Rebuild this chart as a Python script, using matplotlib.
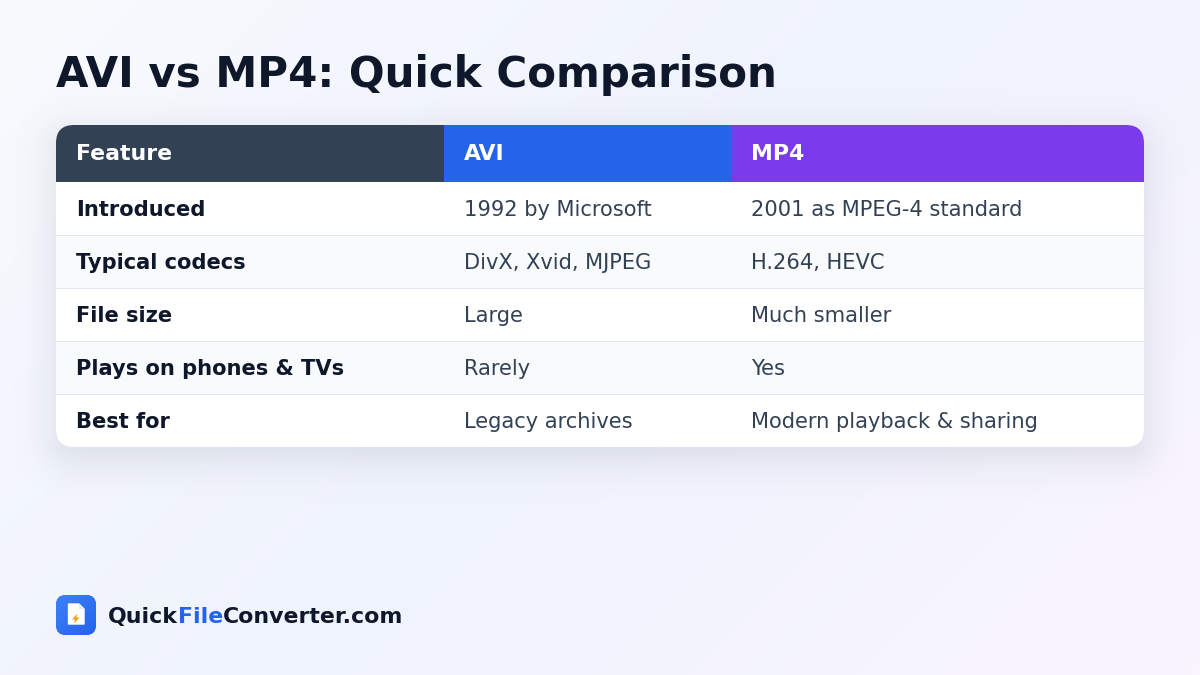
import numpy as np
import matplotlib
matplotlib.use("Agg")
import matplotlib.pyplot as plt
from matplotlib.patches import FancyBboxPatch, Rectangle, Polygon
from matplotlib.colors import LinearSegmentedColormap, to_rgb

title = "AVI vs MP4: Quick Comparison"
headers = ["Feature", "AVI", "MP4"]
features = ["Introduced", "Typical codecs", "File size", "Plays on phones & TVs", "Best for"]
avi = ["1992 by Microsoft", "DivX, Xvid, MJPEG", "Large", "Rarely", "Legacy archives"]
mp4 = ["2001 as MPEG-4 standard", "H.264, HEVC", "Much smaller", "Yes", "Modern playback & sharing"]
footer = [("Quick", "#0f172a"), ("File", "#2563eb"), ("Converter.com", "#0f172a")]

W, H = 1200, 675
col_x = [56, 444, 731, 1144]
row_y = [125, 182, 236, 289, 342, 395, 447]
baselines = [216, 269, 322, 375, 428]
head_cols = ["#334155", "#2563eb", "#7c3aed"]
plt.rcParams["font.family"] = "DejaVu Sans"
px = 72 / 100

fig = plt.figure(figsize=(12, 6.75), dpi=100)
ax = fig.add_axes([0, 0, 1, 1])
ax.set_xlim(0, W)
ax.set_ylim(H, 0)
ax.axis("off")

yy, xx = np.mgrid[0:H, 0:W] + 0.5
t = (xx + yy) / (W + H)
bg = LinearSegmentedColormap.from_list("bg", ["#f8fafd", "#eff3fe", "#faf5ff"])
ax.imshow(t, cmap=bg, vmin=0, vmax=1, extent=(0, W, H, 0), aspect="auto", zorder=0, interpolation="bilinear")

def rrect(x0, y0, x1, y1, r, **kw):
    p = FancyBboxPatch((x0 + r, y0 + r), x1 - x0 - 2 * r, y1 - y0 - 2 * r,
                       boxstyle=f"round,pad={r},rounding_size={r}", linewidth=0, **kw)
    ax.add_patch(p)
    return p

card = (col_x[0], row_y[0], col_x[-1], row_y[-1])

# soft card shadow: blurred rounded box, offset downward
sigma, off, strength, rad = 20.0, 10.0, 0.12, 18.0
cx, cy = (card[0] + card[2]) / 2, (card[1] + card[3]) / 2 + off
qx = np.abs(xx - cx) - ((card[2] - card[0]) / 2 - rad)
qy = np.abs(yy - cy) - ((card[3] - card[1]) / 2 - rad)
dist = np.hypot(np.maximum(qx, 0), np.maximum(qy, 0)) + np.minimum(np.maximum(qx, qy), 0) - rad
alpha = strength * 0.5 * (1 - np.tanh(dist / (sigma * 1.25)))
shadow = np.zeros((H, W, 4))
shadow[..., :3] = to_rgb("#0f172a")
shadow[..., 3] = alpha
ax.imshow(shadow, extent=(0, W, H, 0), aspect="auto", zorder=1, interpolation="bilinear")
ax.set_xlim(0, W)
ax.set_ylim(H, 0)

clip = rrect(*card, 18, facecolor="white", zorder=2)

# header cells and zebra rows
for i, c in enumerate(head_cols):
    r = Rectangle((col_x[i], row_y[0]), col_x[i + 1] - col_x[i], row_y[1] - row_y[0],
                  facecolor=c, linewidth=0, zorder=3)
    ax.add_patch(r)
    r.set_clip_path(clip)
for i in range(len(features)):
    y0, y1 = row_y[i + 1], row_y[i + 2]
    if i % 2 == 1:
        ax.add_patch(Rectangle((col_x[0], y0), col_x[-1] - col_x[0], y1 - y0,
                               facecolor="#f8fafc", linewidth=0, zorder=3))
    if i < len(features) - 1:
        ax.add_patch(Rectangle((col_x[0], y1 - 1), col_x[-1] - col_x[0], 1,
                               facecolor="#e2e8f0", linewidth=0, zorder=4))

# text
fs_head = 22 * px
fs = 21 * px
text_x = [c + 20 for c in col_x[:3]]
for x, h in zip(text_x, headers):
    ax.text(x, 160, h, color="white", fontsize=fs_head, fontweight="bold", va="baseline", zorder=5)
for i in range(len(features)):
    b = baselines[i]
    ax.text(text_x[0], b, features[i], color="#0f172a", fontsize=fs, fontweight="bold", va="baseline", zorder=5)
    ax.text(text_x[1], b, avi[i], color="#334155", fontsize=fs, va="baseline", zorder=5)
    ax.text(text_x[2], b, mp4[i], color="#334155", fontsize=fs, va="baseline", zorder=5)

ax.text(56, 87, title, color="#0f172a", fontsize=42 * px, fontweight="bold", va="baseline", zorder=5)

# logo
logo = rrect(56, 595, 96, 635, 10, facecolor="#2563eb", zorder=3)
grad = np.linspace(0, 1, 40)[:, None] * 0.5 + np.linspace(0, 1, 40)[None, :] * 0.5
im = ax.imshow(grad, cmap=LinearSegmentedColormap.from_list("lg", ["#3b82f6", "#2563eb"]),
               extent=(56, 96, 635, 595), aspect="auto", zorder=3.5)
im.set_clip_path(logo)
ax.set_xlim(0, W)
ax.set_ylim(H, 0)
ax.add_patch(Polygon([(68.5, 604), (79, 604), (84, 609), (84, 624), (68.5, 624)],
                     closed=True, facecolor="white", edgecolor="white", lw=1.0, joinstyle="round", zorder=4))
ax.add_patch(Polygon([(79, 604), (84, 609), (79, 609)], closed=True, facecolor="#dbeafe", linewidth=0, zorder=4.1))
ax.add_patch(Polygon([(77.5, 613.5), (72, 619.5), (75.2, 619.5), (74, 623.5), (79.5, 617.5), (76.3, 617.5)],
                     closed=True, facecolor="#f59e0b", linewidth=0, zorder=4.2))

# footer wordmark
fig.canvas.draw()
rend = fig.canvas.get_renderer()
x = 108
for s, c in footer:
    tx = ax.text(x, 623, s, color=c, fontsize=22 * px, fontweight="bold", va="baseline", zorder=5)
    adv = rend.get_text_width_height_descent(s, tx.get_fontproperties(), False)[0]
    x += adv

fig.savefig("out.png", dpi=100)
